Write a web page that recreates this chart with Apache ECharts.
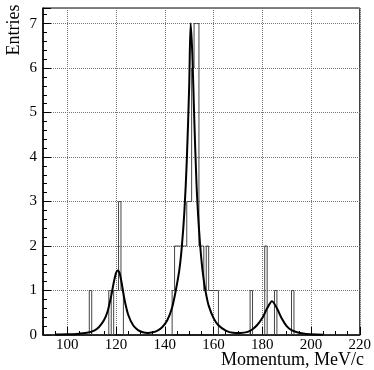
<!DOCTYPE html>
<html>
<head>
<meta charset="utf-8">
<script src="https://cdn.jsdelivr.net/npm/echarts@6.0.0/dist/echarts.min.js"></script>
<style>
  html, body { margin: 0; padding: 0; background: #fff; }
  #chart { width: 374px; height: 370px; }
</style>
</head>
<body>
<div id="chart"></div>
<script>
// histogram: 1 MeV/c bins, left edge -> entries (empty bins omitted)
const binLeft   = [109, 117, 119, 120, 121, 122, 143, 144, 145, 146, 147, 148, 149, 150, 151, 152, 153, 154, 155, 156, 157, 158, 159, 160, 161, 175, 181, 185, 192];
const binCounts = [  1,   1,   1,   1,   3,   1,   1,   2,   2,   2,   2,   2,   3,   3,   6,   7,   7,   2,   2,   1,   2,   1,   1,   1,   1,   1,   2,   1,   1];

// fit curve
const fitX = [95, 100, 104, 108, 111, 113, 115, 116.5, 118, 119, 120, 120.7, 121.5, 122.5, 123.5, 125, 127, 129, 131, 133, 135, 137, 139, 141, 143, 144.5, 146, 147, 148, 149, 150, 150.6, 151.3, 152, 153, 154, 155, 156, 157, 158, 160, 162, 165, 168, 171, 174, 176, 178, 180, 182, 184, 186, 188, 190, 192, 195, 198, 202, 205];
const fitY = [0.01, 0.015, 0.025, 0.05, 0.1, 0.18, 0.33, 0.53, 0.88, 1.17, 1.4, 1.45, 1.38, 1.1, 0.78, 0.45, 0.22, 0.11, 0.06, 0.045, 0.06, 0.1, 0.18, 0.33, 0.62, 1.0, 1.48, 2.0, 2.75, 3.9, 5.6, 7.0, 6.3, 5.0, 3.4, 2.4, 1.7, 1.22, 0.9, 0.66, 0.38, 0.22, 0.1, 0.05, 0.045, 0.07, 0.13, 0.23, 0.38, 0.6, 0.76, 0.6, 0.37, 0.2, 0.11, 0.05, 0.025, 0.01, 0.005];

const xMin = 90, xMax = 220, yMax = 7.35;

// build step outline over the whole axis range
const counts = {};
binLeft.forEach((b, i) => { counts[b] = binCounts[i]; });
const histData = [];
for (let e = xMin; e < xMax; e++) histData.push([e, counts[e] || 0]);
histData.push([xMax, 0]);

const fitData = fitX.map((x, i) => [x, fitY[i]]);

const serif = '"Liberation Serif", "DejaVu Serif", serif';
const chart = echarts.init(document.getElementById('chart'));

chart.setOption({
  animation: false,
  grid: { left: 43, right: 10, top: 8, bottom: 35, show: true, borderColor: '#000', borderWidth: 1 },
  xAxis: {
    type: 'value',
    min: xMin, max: xMax,
    minInterval: 20, maxInterval: 20, splitNumber: 6,
    axisLine: { lineStyle: { color: '#000', width: 1.5 } },
    axisTick: { inside: true, length: 8, lineStyle: { color: '#000' } },
    minorTick: { show: true, splitNumber: 4, length: 4, lineStyle: { color: '#000' } },
    splitLine: { show: true, lineStyle: { color: '#777', type: 'dotted', width: 1 } },
    axisLabel: {
      color: '#000', fontFamily: serif, fontSize: 15, margin: 3,
      formatter: v => (v % 20 === 0 ? String(v) : '')
    }
  },
  yAxis: {
    type: 'value',
    min: 0, max: yMax, interval: 1,
    axisLine: { show: true, lineStyle: { color: '#000', width: 1.5 } },
    axisTick: { show: true, inside: true, length: 8, lineStyle: { color: '#000' } },
    minorTick: { show: true, splitNumber: 5, length: 4, lineStyle: { color: '#000' } },
    splitLine: { show: true, lineStyle: { color: '#777', type: 'dotted', width: 1 } },
    axisLabel: {
      color: '#000', fontFamily: serif, fontSize: 15, margin: 6,
      formatter: v => (Number.isInteger(v) ? String(v) : '')
    }
  },
  graphic: [
    {
      type: 'text', x: 14, y: 30, rotation: Math.PI / 2,
      style: { text: 'Entries', font: '18px ' + serif, fill: '#000', align: 'center', verticalAlign: 'middle' }
    },
    {
      type: 'text', x: 364, y: 360,
      style: { text: 'Momentum, MeV/c', font: '18px ' + serif, fill: '#000', align: 'right', verticalAlign: 'middle' }
    }
  ],
  series: [
    {
      name: 'hist',
      type: 'line',
      step: 'end',
      symbol: 'none',
      data: histData,
      lineStyle: { color: '#444', width: 1 },
      z: 3
    },
    {
      name: 'fit',
      type: 'line',
      smooth: 0.3,
      symbol: 'none',
      data: fitData,
      lineStyle: { color: '#000', width: 2 },
      z: 4
    }
  ]
});
</script>
</body>
</html>
